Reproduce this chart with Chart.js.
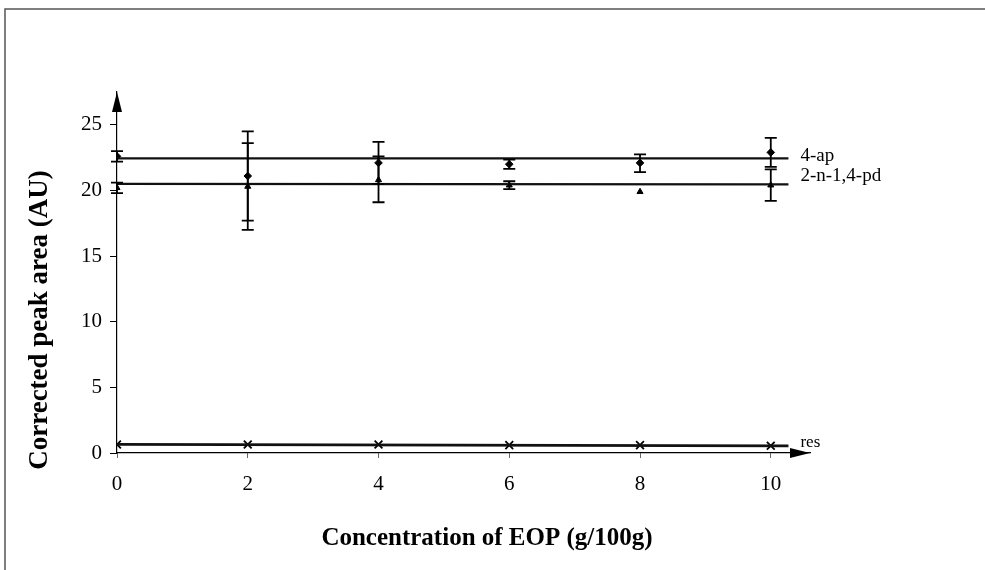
<!DOCTYPE html>
<html><head><meta charset="utf-8">
<script src="https://cdn.jsdelivr.net/npm/chart.js@4"></script>
<style>html,body{margin:0;padding:0;background:#fff}#wrap{width:985px;height:570px;position:relative}</style>
</head><body><div id="wrap"><canvas id="c" width="985" height="570"></canvas></div>
<script>
// ---- data ----
const concentrations = [0, 2, 4, 6, 8, 10];
const ap4 = [22.6, 21.1, 22.1, 22.0, 22.1, 22.9];
const ap4Upper = [23.0, 24.5, 23.7, 22.35, 22.75, 24.0];
const ap4Lower = [22.2, 17.7, 20.5, 21.65, 21.4, 21.8];
const npd = [20.2, 20.3, 20.8, 20.4, 19.9, 20.4];
const npdUpper = [20.6, 23.6, 22.6, 20.7, 19.9, 21.6];
const npdLower = [19.8, 17.0, 19.1, 20.1, 19.9, 19.2];
const res = [0.65, 0.65, 0.65, 0.6, 0.6, 0.55];
const fitX = [0, 10.27];
const ap4Fit = [22.45, 22.45];
const npdFit = [20.5, 20.47];
const resFit = [0.66, 0.55];
const xTicks = [0, 2, 4, 6, 8, 10];
const yTicks = [0, 5, 10, 15, 20, 25];
const seriesNames = ['4-ap', '2-n-1,4-pd', 'res'];
const xTitle = 'Concentration of EOP (g/100g)';
const yTitle = 'Corrected peak area (AU)';

const pts = (xs, ys) => xs.map((x, i) => ({x, y: ys[i]}));
const SERIF = '"Liberation Serif", "DejaVu Serif", serif';

const decor = {
  id: 'decor',
  afterDatasetsDraw(chart) {
    const {ctx, scales: {x, y}, chartArea: ca} = chart;
    ctx.save();
    // frame of the scanned figure
    ctx.strokeStyle = '#555'; ctx.lineWidth = 1.5;
    ctx.beginPath(); ctx.moveTo(5, 570); ctx.lineTo(5, 9); ctx.lineTo(985, 9); ctx.stroke();
    // axis arrows
    ctx.fillStyle = '#000';
    ctx.beginPath(); ctx.moveTo(ca.left, ca.top); ctx.lineTo(ca.left - 5, ca.top + 20); ctx.lineTo(ca.left + 5, ca.top + 20); ctx.closePath(); ctx.fill();
    ctx.beginPath(); ctx.moveTo(ca.right, ca.bottom); ctx.lineTo(ca.right - 20, ca.bottom - 5); ctx.lineTo(ca.right - 20, ca.bottom + 5); ctx.closePath(); ctx.fill();
    // error bars
    ctx.strokeStyle = '#000'; ctx.lineWidth = 1.8;
    const bars = (ups, lows) => concentrations.forEach((c, i) => {
      const px = x.getPixelForValue(c), pu = y.getPixelForValue(ups[i]), pl = y.getPixelForValue(lows[i]);
      if (Math.abs(pu - pl) < 1) return;
      ctx.beginPath();
      ctx.moveTo(px, pu); ctx.lineTo(px, pl);
      ctx.moveTo(px - 6, pu); ctx.lineTo(px + 6, pu);
      ctx.moveTo(px - 6, pl); ctx.lineTo(px + 6, pl);
      ctx.stroke();
    });
    bars(ap4Upper, ap4Lower);
    bars(npdUpper, npdLower);
    // series labels at the end of the fitted lines
    const ex = x.getPixelForValue(fitX[1]) + 12;
    ctx.fillStyle = '#000'; ctx.textAlign = 'left'; ctx.textBaseline = 'alphabetic';
    ctx.font = '19px ' + SERIF;
    ctx.fillText(seriesNames[0], ex, y.getPixelForValue(ap4Fit[1]) + 3);
    ctx.fillText(seriesNames[1], ex, y.getPixelForValue(npdFit[1]) - 3);
    ctx.font = '17px ' + SERIF;
    ctx.fillText(seriesNames[2], ex, y.getPixelForValue(resFit[1]) + 1);
    // axis titles
    ctx.font = 'bold 25px ' + SERIF; ctx.textAlign = 'center';
    ctx.fillText(xTitle, 487, 545);
    ctx.save(); ctx.translate(47, 320); ctx.rotate(-Math.PI / 2);
    ctx.font = 'bold 27px ' + SERIF;
    ctx.fillText(yTitle, 0, 0);
    ctx.restore();
    ctx.restore();
  }
};

new Chart(document.getElementById('c'), {
  type: 'scatter',
  data: {
    datasets: [
      {label: seriesNames[0] + ' fit', data: pts(fitX, ap4Fit), showLine: true, borderColor: '#111', borderWidth: 2.2, pointRadius: 0},
      {label: seriesNames[1] + ' fit', data: pts(fitX, npdFit), showLine: true, borderColor: '#111', borderWidth: 2.2, pointRadius: 0},
      {label: seriesNames[2] + ' fit', data: pts(fitX, resFit), showLine: true, borderColor: '#111', borderWidth: 2.8, pointRadius: 0},
      {label: seriesNames[0], data: pts(concentrations, ap4), pointStyle: 'rectRot', pointRadius: 3.8, backgroundColor: '#000', borderColor: '#000', borderWidth: 1},
      {label: seriesNames[1], data: pts(concentrations, npd), pointStyle: 'triangle', pointRadius: 3.5, backgroundColor: '#000', borderColor: '#000', borderWidth: 1},
      {label: seriesNames[2], data: pts(concentrations, res), pointStyle: 'crossRot', pointRadius: 5.5, borderColor: '#000', borderWidth: 1.8}
    ]
  },
  options: {
    responsive: false, animation: false, devicePixelRatio: 1,
    layout: {padding: {left: 0, top: 92, right: 175, bottom: 0}},
    plugins: {legend: {display: false}, tooltip: {enabled: false}},
    scales: {
      x: {
        type: 'linear', min: 0, max: 10.6,
        afterFit: s => { s.height = 117; },
        afterBuildTicks: s => { s.ticks = xTicks.map(v => ({value: v})); },
        grid: {drawOnChartArea: false, drawTicks: true, tickLength: 5, color: '#666'},
        border: {display: true, color: '#000', width: 1.2},
        ticks: {padding: 14, color: '#000', font: {family: SERIF, size: 21}}
      },
      y: {
        type: 'linear', min: 0, max: 27.5,
        afterFit: s => { s.width = 117; },
        afterBuildTicks: s => { s.ticks = yTicks.map(v => ({value: v})); },
        grid: {drawOnChartArea: false, drawTicks: true, tickLength: 7, color: '#000'},
        border: {display: true, color: '#000', width: 1.2},
        ticks: {padding: 8, color: '#000', font: {family: SERIF, size: 21}}
      }
    }
  },
  plugins: [decor]
});
</script>
</body></html>
